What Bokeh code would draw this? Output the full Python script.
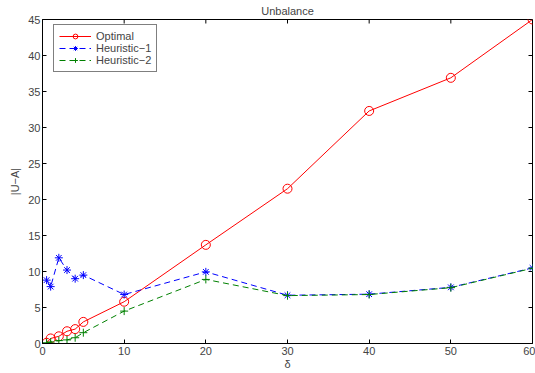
import math
from bokeh.plotting import figure
from bokeh.models import Range1d, FixedTicker
from bokeh.embed import file_html
from bokeh.resources import INLINE

delta = [0.5, 1, 2, 3, 4, 5, 10, 20, 30, 40, 50, 60]
optimal = [0.1, 0.7, 1.0, 1.7, 2.0, 3.0, 5.8, 13.7, 21.5, 32.3, 36.9, 45.0]
heur1 = [8.8, 7.9, 11.9, 10.2, 9.0, 9.5, 6.8, 9.95, 6.7, 6.85, 7.8, 10.5]
heur2 = [0.1, 0.2, 0.4, 0.5, 0.8, 1.5, 4.5, 8.9, 6.65, 6.8, 7.75, 10.45]
xticks = [0, 10, 20, 30, 40, 50, 60]
yticks = [0, 5, 10, 15, 20, 25, 30, 35, 40, 45]
xmin, xmax = 0, 60
ymin, ymax = 0, 45

FONT = "Liberation Sans"

p = figure(frame_width=490, frame_height=324, output_backend="svg", toolbar_location=None,
           x_range=Range1d(xmin, xmax), y_range=Range1d(ymin, ymax),
           min_border_left=42, min_border_right=3, min_border_top=19, min_border_bottom=30)
p.title.text = "Unbalance"
p.title.align = "center"
p.title.text_font = FONT
p.title.text_font_size = "11px"
p.title.text_font_style = "normal"
p.title.standoff = 5
p.xgrid.visible = False
p.ygrid.visible = False
p.outline_line_color = "black"
p.outline_line_width = 1
p.background_fill_color = "white"
p.border_fill_color = "white"

for ax in (p.xaxis[0], p.yaxis[0]):
    ax.major_tick_in = 4
    ax.major_tick_out = 0
    ax.minor_tick_in = 0
    ax.minor_tick_out = 0
    ax.axis_line_color = "black"
    ax.major_tick_line_color = "black"
    ax.major_label_text_font = FONT
    ax.major_label_text_font_size = "11px"
    ax.axis_label_text_font = FONT
    ax.axis_label_text_font_size = "11px"
    ax.axis_label_text_font_style = "normal"
p.xaxis[0].major_label_standoff = 3
p.xaxis[0].axis_label_standoff = 0
p.yaxis[0].major_label_standoff = 2
p.yaxis[0].axis_label_standoff = 4
p.xaxis[0].ticker = FixedTicker(ticks=xticks)
p.yaxis[0].ticker = FixedTicker(ticks=yticks)
p.xaxis[0].axis_label = "δ"
p.yaxis[0].axis_label = "|U−A|"

# inward ticks on the right and top edges (box axes)
p.ray(x=[xmax] * len(yticks), y=yticks, length=4, length_units="screen",
      angle=math.pi, line_color="black", line_width=1)
p.ray(x=xticks, y=[ymax] * len(xticks), length=4, length_units="screen",
      angle=-math.pi / 2, line_color="black", line_width=1)

p.line(delta, optimal, line_color="red", line_width=1, legend_label="Optimal")
p.scatter(delta, optimal, marker="circle", size=9, line_color="red", fill_color=None,
          line_width=1, legend_label="Optimal")
p.line(delta, heur1, line_color="blue", line_width=1, line_dash="6 4", legend_label="Heuristic\u22121")
p.scatter(delta, heur1, marker="asterisk", size=8, line_color="blue", line_width=1,
          legend_label="Heuristic\u22121")
p.line(delta, heur2, line_color="green", line_width=1, line_dash="6 4", legend_label="Heuristic\u22122")
p.scatter(delta, heur2, marker="cross", size=8, line_color="green", line_width=1,
          legend_label="Heuristic\u22122")

lg = p.legend[0]
lg.location = (11, 271)
lg.margin = 0
lg.padding = 5
lg.spacing = 0
lg.label_text_font = FONT
lg.label_text_font_size = "11px"
lg.label_height = 12
lg.glyph_height = 12
lg.glyph_width = 32
lg.label_standoff = 5
lg.border_line_color = "black"
lg.border_line_width = 1
lg.background_fill_alpha = 1

open("out.html", "w").write(file_html(p, INLINE))
